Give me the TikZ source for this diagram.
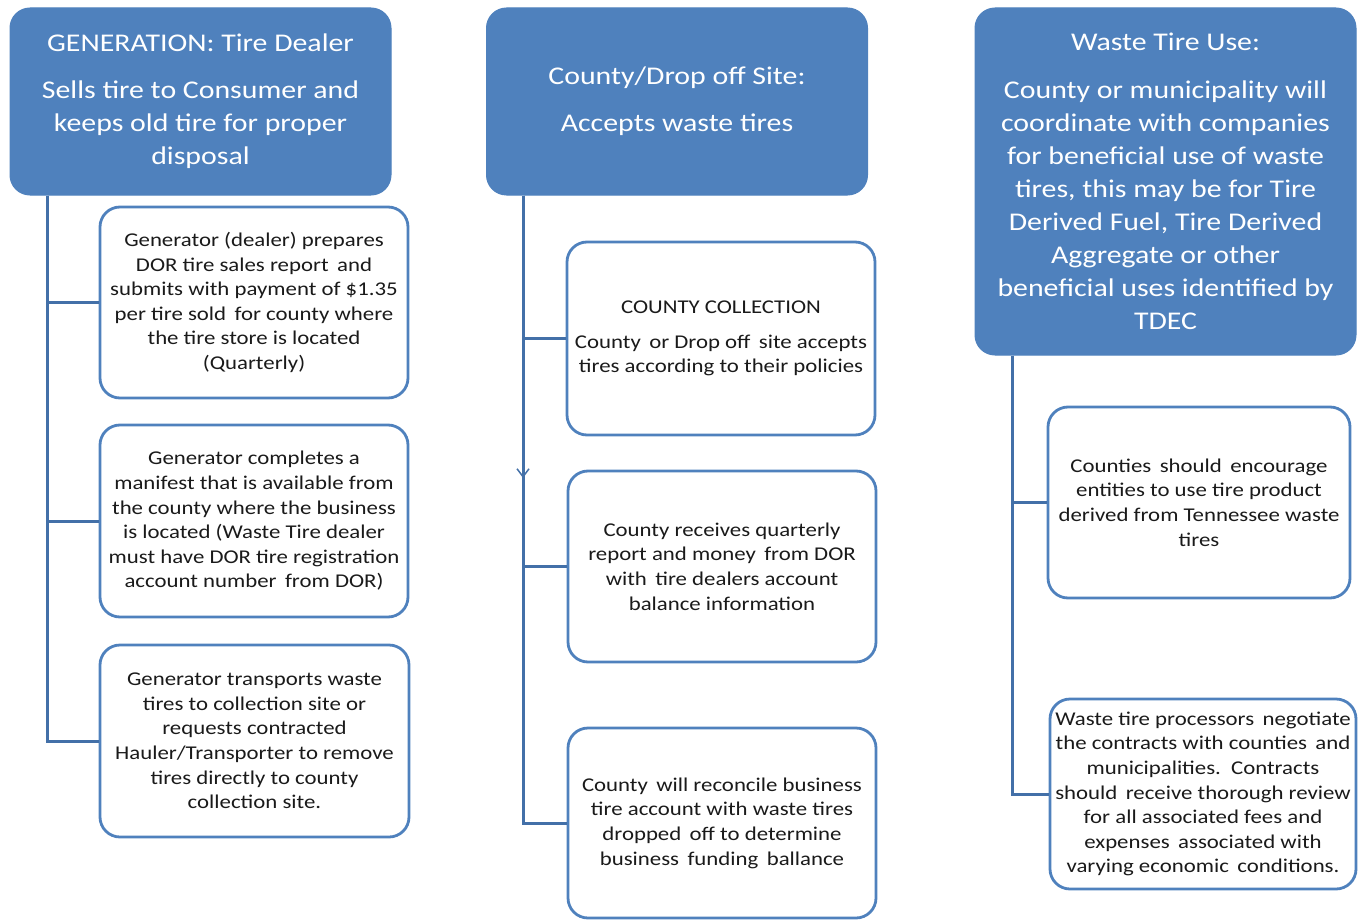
\documentclass[tikz,border=0pt]{standalone}
\usepackage{fontspec}
\setmainfont{Carlito}[FakeStretch=1.17]
\usetikzlibrary{arrows.meta}
\definecolor{hdrblue}{HTML}{4F81BD}
\definecolor{lineblue}{HTML}{4370A8}
\definecolor{txt}{HTML}{1A1A1A}
\tikzset{
  hdr/.style={draw=hdrblue, fill=hdrblue, rounded corners=20pt, line width=1pt,
    text=white, align=center, inner sep=0pt,
    font=\fontsize{25.5}{33}\selectfont},
  sbox/.style={draw=hdrblue, fill=white, rounded corners=20pt, line width=2.8pt,
    text=txt, align=center, inner sep=0pt,
    font=\fontsize{19.5}{24.6}\selectfont},
  conn/.style={draw=lineblue, line width=3pt}
}
\begin{document}
\begin{tikzpicture}[x=1pt,y=-1pt]
\useasboundingbox (0,0) rectangle (1364,920);
% headers
\node[hdr, minimum width=381pt, minimum height=187pt] (h1) at (200.5,101.5)
  {GENERATION: Tire Dealer\\[14pt] Sells tire to Consumer and\\ keeps old tire for proper\\ disposal};
\node[hdr, minimum width=381pt, minimum height=187pt] (h2) at (677,101.5)
  {County/Drop off Site:\\[14pt] Accepts waste tires};
\node[hdr, minimum width=381pt, minimum height=347pt] (h3) at (1165.5,181.5)
  {Waste Tire Use:\\[15pt] County or municipality will\\ coordinate with companies\\ for beneficial use of waste\\ tires, this may be for Tire\\ Derived Fuel, Tire Derived\\ Aggregate or other\\ beneficial uses identified by\\ TDEC};
% column 1 boxes
\node[sbox, minimum width=308pt, minimum height=191pt] (b11) at (254,302.5)
  {Generator (dealer) prepares\\ DOR tire sales report\, and\\ submits with payment of \$1.35\\ per tire sold\, for county where\\ the tire store is located\\ (Quarterly)};
\node[sbox, minimum width=308pt, minimum height=192pt] (b12) at (254,521)
  {Generator completes a\\ manifest that is available from\\ the county where the business\\ is located (Waste Tire dealer\\ must have DOR tire registration\\ account number\, from DOR)};
\node[sbox, minimum width=309pt, minimum height=192pt] (b13) at (254.5,741)
  {Generator transports waste\\ tires to collection site or\\ requests contracted\\ Hauler/Transporter to remove\\ tires directly to county\\ collection site.};
% column 2 boxes
\node[sbox, minimum width=308pt, minimum height=193pt] (b21) at (721,338.5)
  {COUNTY COLLECTION\\[10pt] County\, or Drop off\, site accepts\\ tires according to their policies};
\node[sbox, minimum width=308pt, minimum height=191pt] (b22) at (722,566.5)
  {County receives quarterly\\ report and money\, from DOR\\ with\, tire dealers account\\ balance information};
\node[sbox, minimum width=308pt, minimum height=190pt] (b23) at (722,823)
  {County\, will reconcile business\\ tire account with waste tires\\ dropped\, off to determine\\ business\, funding\, ballance};
% column 3 boxes
\node[sbox, minimum width=302pt, minimum height=191pt] (b31) at (1199,502.5)
  {Counties\, should\, encourage\\ entities to use tire product\\ derived from Tennessee waste\\ tires};
\node[sbox, minimum width=306pt, minimum height=190pt] (b32) at (1203,794)
  {Waste tire processors\, negotiate\\ the contracts with counties\, and\\ municipalities.\, Contracts\\ should\, receive thorough review\\ for all associated fees and\\ expenses\, associated with\\ varying economic\, conditions.};
% trunks
\coordinate (t1) at (47,0);
\coordinate (t2) at (523,0);
\coordinate (t3) at (1012,0);
\coordinate (a1) at (523,425);
\coordinate (a2) at (523,478);
% connectors
\draw[conn] (h1.south -| t1) |- (b11.west);
\draw[conn] (h1.south -| t1) |- (b12.west);
\draw[conn] (h1.south -| t1) |- (b13.west);
\draw[conn] (h2.south -| t2) |- (b21.west);
\draw[conn] (h2.south -| t2) |- (b22.west);
\draw[conn] (h2.south -| t2) |- (b23.west);
\draw[conn] (h3.south -| t3) |- (b31.west);
\draw[conn] (h3.south -| t3) |- (b32.west);
\draw[conn, line width=1.5pt, -{Straight Barb[length=8pt,width=12pt]}] (a1) -- (a2);
\end{tikzpicture}
\end{document}
